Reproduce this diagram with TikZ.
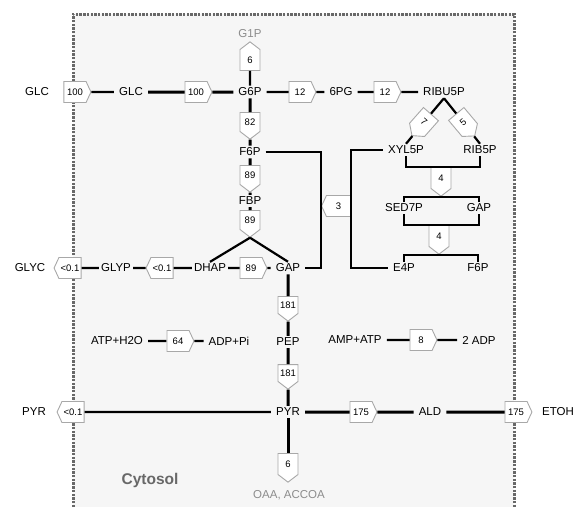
\documentclass[tikz,border=0pt]{standalone}
\usepackage{fontspec}
\setmainfont{Liberation Sans}
\usetikzlibrary{shapes.symbols}
\definecolor{cyto}{HTML}{F6F6F6}
\definecolor{rimgray}{HTML}{686868}
\definecolor{rxgray}{HTML}{A8A8A8}
\definecolor{sidegray}{HTML}{8C8C8C}
\tikzset{
  met/.style={font=\fontsize{11.5}{13}\selectfont, inner xsep=5pt, inner ysep=2pt},
  metn/.style={met, inner xsep=2pt},
  sd/.style={met, text=sidegray},
  rx/.style={signal, draw=rxgray, fill=white, line width=0.9pt,
             font=\fontsize{9.5}{10}\selectfont, inner sep=0pt},
  rxr/.style={rx, signal to=east, signal pointer angle=130,
              minimum width=27pt, minimum height=21pt},
  rxl/.style={rx, signal to=west, signal pointer angle=130,
              minimum width=27pt, minimum height=21pt},
  rxd/.style={rx, signal to=south, signal pointer angle=105,
              minimum width=20pt, minimum height=23pt},
  rxu/.style={rx, signal to=north, signal pointer angle=105,
              minimum width=20pt, minimum height=23pt},
  ln/.style={line width=2.2pt},
  lnb/.style={line width=3pt},
  rim/.style={draw=rimgray, line width=3pt, dash pattern=on 2.4pt off 1.3pt}
}

\begin{document}
\begin{tikzpicture}[x=1pt,y=-1pt]
  \useasboundingbox (0,0) rectangle (575,507);
  % Compartment
  \fill[cyto] (73,14) rectangle (514,507);
  \draw[rim] (73,507) |- (514,14) -- (514,507);
  \node[font=\fontsize{15.5}{17}\selectfont\bfseries, text=rimgray] (cy) at (150,480) {Cytosol};
  % Glucose uptake and upper glycolysis
  \node[met] (gx) at (37,92) {GLC};
  \node[rxr] (r1) at (75,92) {100};
  \node[met] (gl) at (131,92) {GLC};
  \node[rxr] (r2) at (196,92) {100};
  \node[met] (g6) at (250,92) {G6P};
  \node[rxu] (r3) at (250,60) {6};
  \node[sd] (g1) at (250,34) {G1P};
  \node[rxd] (r4) at (250,122) {82};
  \node[met] (f6) at (250,152) {F6P};
  \node[rxd] (r5) at (250,175) {89};
  \node[met] (fb) at (250,201) {FBP};
  \node[rxd] (r6) at (250,220) {89};
  \draw[ln] (r1) -- (gl);
  \draw[lnb] (gl) -- (r2) -- (g6);
  \draw[ln] (g6) -- (r3);
  \draw[lnb] (g6) -- (r4) -- (f6) -- (r5) -- (fb) -- (r6);
  % Pentose phosphate pathway
  \node[rxr] (r7) at (300,92) {12};
  \node[met] (pg) at (341,92) {6PG};
  \node[rxr] (r8) at (385,92) {12};
  \node[met] (ru) at (444,92) {RIBU5P};
  \node[rxd, rotate=-41.5] (r9) at (424,122) {7};
  \node[rxd, rotate=40] (r10) at (463,122) {5};
  \node[met] (xy) at (406,150) {XYL5P};
  \node[met] (rp) at (480,150) {RIB5P};
  \node[rxd] (r12) at (441,178) {4};
  \node[met] (s7) at (404,208) {SED7P};
  \node[met] (g2) at (479,208) {GAP};
  \node[rxd] (r13) at (439,236) {4};
  \node[met] (e4) at (404,268) {E4P};
  \node[met] (f7) at (478,268) {F6P};
  \node[rxl, minimum width=29pt] (r11) at (338.5,206) {3};
  \draw[ln] (g6) -- (r7) -- (pg) -- (r8) -- (ru);
  \draw[ln] (ru.south) -- (r9) -- (xy.north);
  \draw[ln] (ru.south) -- (r10) -- (rp.north);
  \draw[ln] (xy.south) |- (r12.north) -| (rp.south);
  \draw[ln] (s7.north) |- (r12.south) -| (g2.north);
  \draw[ln] (s7.south) |- (r13.north) -| (g2.south);
  \draw[ln] (e4.north) |- (r13.south) -| (f7.north);
  % Lower glycolysis
  \node[met] (gc) at (30,268) {GLYC};
  \node[rxl] (r14) at (70,268) {<0.1};
  \node[metn] (ly) at (116,268) {GLYP};
  \node[rxl] (r15) at (162,268) {<0.1};
  \node[metn] (dh) at (210,268) {DHAP};
  \node[rxr] (r16) at (251,268) {89};
  \node[met] (gp) at (288,268) {GAP};
  \node[rxd] (r17) at (288,305) {181};
  \node[met] (pe) at (288,342) {PEP};
  \node[rxd] (r18) at (288,373) {181};
  \node[met] (py) at (288,412) {PYR};
  \node[rxd] (r19) at (288,464) {6};
  \node[sd] (oa) at (289,495) {OAA, ACCOA};
  \draw[ln] (r6.south) -- (dh.north);
  \draw[ln] (r6.south) -- (gp.north);
  \draw[ln] (f6.east) -| (r11.west) |- (gp.east);
  \draw[ln] (xy.west) -| (r11.east) |- (e4.west);
  \draw[ln] (r14) -- (ly) -- (r15) -- (dh) -- (r16) -- (gp);
  \draw[lnb] (gp) -- (r17) -- (pe) -- (r18) -- (py);
  \draw[lnb] (py) -- (r19);
  % Pyruvate branch point
  \node[met] (px) at (34,412) {PYR};
  \node[rxl] (r20) at (73,412) {<0.1};
  \node[rxr] (r21) at (361,412) {175};
  \node[met] (al) at (430,412) {ALD};
  \node[rxr] (r22) at (516,412) {175};
  \node[met] (et) at (558,412) {ETOH};
  \draw[ln] (r20) -- (py);
  \draw[lnb] (py) -- (r21) -- (al) -- (r22);
  % Energy
  \node[met] (at) at (117,341) {ATP+H2O};
  \node[rxr] (r23) at (178,341) {64};
  \node[met] (ad) at (229,341) {ADP+Pi};
  \node[met] (am) at (355,340) {AMP+ATP};
  \node[rxr] (r24) at (421,340) {8};
  \node[met] (a2) at (479,340) {2 ADP};
  \draw[ln] (at) -- (r23) -- (ad);
  \draw[ln] (am) -- (r24) -- (a2);
\end{tikzpicture}
\end{document}
